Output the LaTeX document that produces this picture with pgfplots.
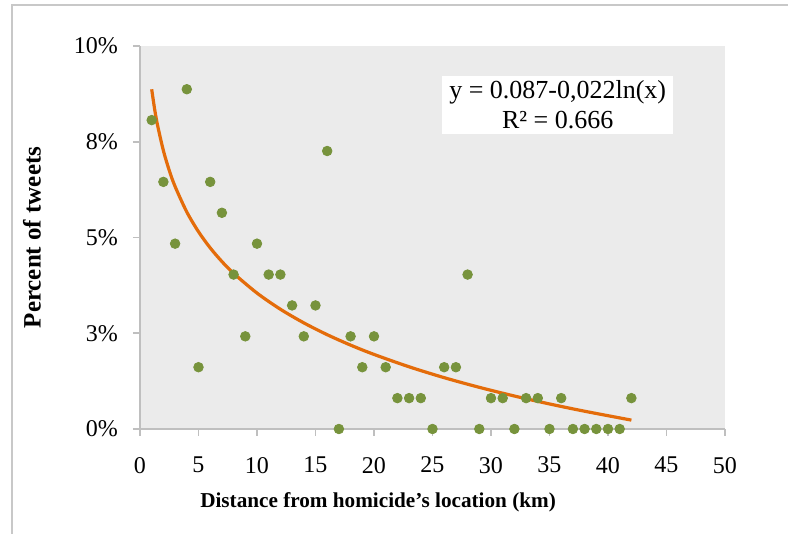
\documentclass[border=0pt]{standalone}
\usepackage{fontspec}
\setmainfont{Liberation Serif}
\usepackage{pgfplots}
\pgfplotsset{compat=1.18}
\definecolor{bggray}{HTML}{EBEBEB}
\definecolor{axgray}{HTML}{BFBFBF}
\definecolor{framegray}{HTML}{C8C8C8}
\definecolor{ptgreen}{HTML}{77933C}
\definecolor{trorange}{HTML}{E46C0A}
\pgfplotstableread{
x y
1 8.065
2 6.452
3 4.839
4 8.871
5 1.613
6 6.452
7 5.645
8 4.032
9 2.419
10 4.839
11 4.032
12 4.032
13 3.226
14 2.419
15 3.226
16 7.258
17 0
18 2.419
19 1.613
20 2.419
21 1.613
22 0.806
23 0.806
24 0.806
25 0
26 1.613
27 1.613
28 4.032
29 0
30 0.806
31 0.806
32 0
33 0.806
34 0.806
35 0
36 0.806
37 0
38 0
39 0
40 0
41 0
42 0.806
}\pts
\pgfplotstableread{
x y
1 8.870
1.25 8.354
1.5 7.933
2 7.268
2.5 6.752
3 6.331
4 5.666
5 5.151
6 4.729
7 4.373
8 4.064
10 3.549
12 3.127
14 2.771
16 2.462
18 2.190
20 1.947
23 1.624
26 1.340
29 1.088
32 0.861
35 0.654
38 0.464
42 0.232
}\trend
\begin{document}
\begin{tikzpicture}
\path[use as bounding box] (-70pt,-52.5pt) rectangle (324pt,214.5pt);
\draw[framegray, line width=1.2pt] (-64pt,-52.5pt) -- (-64pt,212pt) -- (324pt,212pt);
\begin{axis}[
  at={(0,0)}, anchor=south west, scale only axis,
  width=292.5pt, height=191.5pt,
  xmin=0, xmax=50, ymin=0, ymax=10,
  axis x line*=bottom, axis y line*=left,
  axis background/.style={fill=bggray},
  axis line style={axgray, line width=1pt},
  xtick={0,5,...,50},
  ytick={0,2.5,5,7.5,10},
  yticklabels={0\%,3\%,5\%,8\%,10\%},
  tick align=outside, major tick length=3.5pt,
  tick style={axgray, line width=0.8pt},
  /pgf/number format/assume math mode=true,
  ticklabel style={font=\fontsize{12}{14}\selectfont},
  xticklabel style={yshift=-7pt},
  yticklabel style={xshift=-4pt},
  xlabel={Distance from homicide’s location (km)},
  ylabel={Percent of tweets},
  xlabel style={font=\bfseries\fontsize{10.6}{12}\selectfont, at={(axis description cs:0.407,-0.1906)}, anchor=center},
  ylabel style={font=\bfseries\fontsize{12.5}{14}\selectfont, at={(axis description cs:-0.1846,0.5)}, anchor=center},
  clip=false,
]
\addplot[only marks, mark=*, mark size=2.4pt, mark options={fill=ptgreen, draw=ptgreen}] table[x=x, y=y] {\pts};
\addplot[trorange, line width=1.6pt, smooth, no marks] table[x=x, y=y] {\trend};
\node[fill=white, align=center, inner xsep=3.5pt, inner ysep=2.5pt, font=\fontsize{13}{15}\selectfont] at (axis cs:35.7,8.46) {y = 0.087-0,022ln(x)\\R² = 0.666};
\end{axis}
\end{tikzpicture}
\end{document}
